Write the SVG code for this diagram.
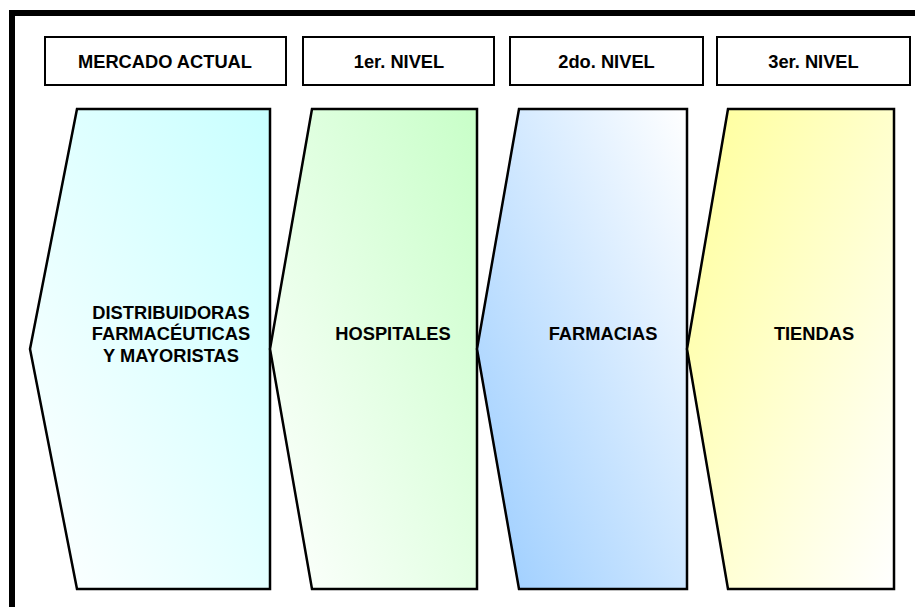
<svg xmlns="http://www.w3.org/2000/svg" width="915" height="607" viewBox="0 0 915 607">
  <style>
    .hdr { fill: #ffffff; stroke: #000000; stroke-width: 2; }
    .shape { stroke: #000000; stroke-width: 2.5; stroke-linejoin: miter; }
    .lbl { font-family: "Liberation Sans", Arial, sans-serif; font-weight: bold; font-size: 18.3px; fill: #000000; text-anchor: middle; }
  </style>
  <defs>
    <linearGradient id="gCyan" x1="0" y1="1" x2="1" y2="0">
      <stop offset="0" stop-color="#ffffff"/>
      <stop offset="1" stop-color="#c8ffff"/>
    </linearGradient>
    <linearGradient id="gGreen" x1="0" y1="1" x2="1" y2="0">
      <stop offset="0" stop-color="#ffffff"/>
      <stop offset="1" stop-color="#c8ffc8"/>
    </linearGradient>
    <linearGradient id="gBlue" x1="0" y1="1" x2="1" y2="0">
      <stop offset="0" stop-color="#99ccff"/>
      <stop offset="1" stop-color="#ffffff"/>
    </linearGradient>
    <linearGradient id="gYellow" x1="0" y1="0" x2="1" y2="1">
      <stop offset="0" stop-color="#ffff99"/>
      <stop offset="1" stop-color="#ffffff"/>
    </linearGradient>
  </defs>

  <rect x="0" y="0" width="915" height="607" fill="#ffffff"/>
  <!-- outer frame, open to the right and bottom -->
  <rect x="12" y="13" width="930" height="620" fill="none" stroke="#000000" stroke-width="6"/>

  <!-- column headers -->
  <g id="hdr-mercado">
    <rect class="hdr" x="45" y="37" width="241" height="48"/>
    <text class="lbl" x="165" y="67.5">MERCADO ACTUAL</text>
  </g>
  <g id="hdr-nivel1">
    <rect class="hdr" x="303" y="37" width="191" height="48"/>
    <text class="lbl" x="399" y="67.5">1er. NIVEL</text>
  </g>
  <g id="hdr-nivel2">
    <rect class="hdr" x="510" y="37" width="193" height="48"/>
    <text class="lbl" x="606.5" y="67.5">2do. NIVEL</text>
  </g>
  <g id="hdr-nivel3">
    <rect class="hdr" x="717" y="37" width="193" height="48"/>
    <text class="lbl" x="813.5" y="67.5">3er. NIVEL</text>
  </g>

  <!-- channel shapes -->
  <g id="distribuidoras">
    <polygon class="shape" fill="url(#gCyan)" points="77,109 270,109 270,589 77,589 30,349"/>
    <text class="lbl" x="171" y="318.5">DISTRIBUIDORAS</text>
    <text class="lbl" x="171" y="340">FARMACÉUTICAS</text>
    <text class="lbl" x="171" y="361.5">Y MAYORISTAS</text>
  </g>
  <g id="hospitales">
    <polygon class="shape" fill="url(#gGreen)" points="312,109 477,109 477,589 312,589 270,349"/>
    <text class="lbl" x="393" y="340">HOSPITALES</text>
  </g>
  <g id="farmacias">
    <polygon class="shape" fill="url(#gBlue)" points="519,109 687,109 687,589 519,589 477,349"/>
    <text class="lbl" x="603" y="340">FARMACIAS</text>
  </g>
  <g id="tiendas">
    <polygon class="shape" fill="url(#gYellow)" points="728,109 894,109 894,589 728,589 687,349"/>
    <text class="lbl" x="814" y="340">TIENDAS</text>
  </g>

  <g id="connectors"/>
</svg>
